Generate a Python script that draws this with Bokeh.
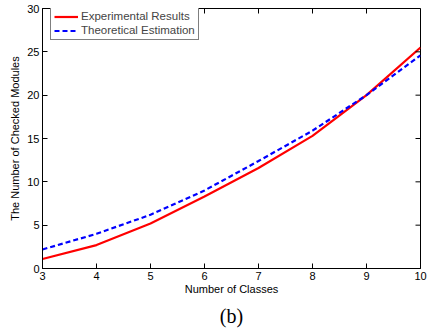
import math
from bokeh.plotting import figure
from bokeh.models import FixedTicker, Legend, LegendItem, Title, Range1d
from bokeh.embed import file_html
from bokeh.resources import INLINE

classes = [3, 4, 5, 6, 7, 8, 9, 10]
experimental = [1.1, 2.7, 5.2, 8.3, 11.6, 15.3, 20.0, 25.5]
theoretical = [2.2, 4.0, 6.2, 9.0, 12.4, 15.9, 20.0, 24.6]
x_ticks = [3, 4, 5, 6, 7, 8, 9, 10]
y_ticks = [0, 5, 10, 15, 20, 25, 30]

FONT = "Liberation Sans"
TICK = 5

p = figure(width=428, height=332, output_backend="svg", toolbar_location=None,
           x_range=Range1d(x_ticks[0], x_ticks[-1]), y_range=Range1d(y_ticks[0], y_ticks[-1]),
           min_border_left=42, min_border_right=8, min_border_top=8, min_border_bottom=64)
p.background_fill_color = "white"
p.border_fill_color = "white"
p.outline_line_color = "black"
p.outline_line_width = 1
p.xgrid.visible = False
p.ygrid.visible = False

r1 = p.line(classes, experimental, line_color="#ff0000", line_width=2.2)
r2 = p.line(classes, theoretical, line_color="#0000ff", line_width=2.2, line_dash="5 3")

# inward ticks on the top and right edges of the box
p.ray(x=x_ticks, y=[y_ticks[-1]] * len(x_ticks), length=TICK, length_units="screen",
      angle=-math.pi / 2, line_color="black", line_width=1)
p.ray(x=[x_ticks[-1]] * len(y_ticks), y=y_ticks, length=TICK, length_units="screen",
      angle=math.pi, line_color="black", line_width=1)

for ax, ticks in ((p.xaxis[0], x_ticks), (p.yaxis[0], y_ticks)):
    ax.ticker = FixedTicker(ticks=ticks)
    ax.major_tick_in = TICK
    ax.major_tick_out = 0
    ax.minor_tick_in = 0
    ax.minor_tick_out = 0
    ax.axis_line_color = "black"
    ax.major_tick_line_color = "black"
    ax.major_label_text_font = FONT
    ax.major_label_text_font_size = "11px"
    ax.major_label_text_color = "black"
    ax.axis_label_text_font = FONT
    ax.axis_label_text_font_size = "11px"
    ax.axis_label_text_font_style = "normal"
    ax.axis_label_text_color = "black"
    ax.major_label_standoff = 3

p.xaxis[0].axis_label = "Number of Classes"
p.xaxis[0].axis_label_standoff = 0
p.yaxis[0].axis_label = "The Number of Checked Modules"
p.yaxis[0].axis_label_standoff = 3

legend = Legend(items=[LegendItem(label="Experimental Results", renderers=[r1]),
                       LegendItem(label="Theoretical Estimation", renderers=[r2])],
                location=(8, 228))
legend.label_text_font = FONT
legend.label_text_font_size = "11.5px"
legend.label_height = 11
legend.glyph_height = 11
legend.glyph_width = 24
legend.spacing = 2
legend.padding = 3
legend.margin = 0
legend.label_standoff = 3
legend.border_line_color = "black"
legend.border_line_width = 1
legend.background_fill_alpha = 1
p.add_layout(legend)

cap = Title(text="(b)", align="center", text_font="Liberation Serif",
            text_font_size="20px", text_font_style="normal", text_color="black",
            standoff=10)
p.add_layout(cap, "below")

open("out.html", "w").write(file_html(p, INLINE))
